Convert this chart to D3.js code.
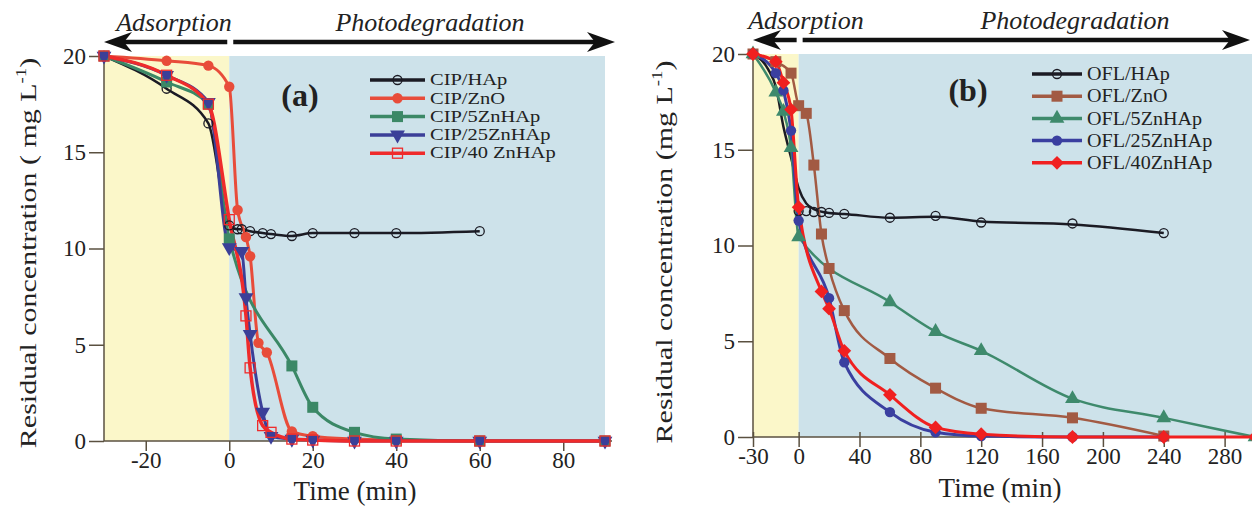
<!DOCTYPE html>
<html><head><meta charset="utf-8">
<script src="https://cdn.jsdelivr.net/npm/d3@7"></script>
<style>
body{margin:0;background:#fff}
svg{display:block}
text{font-family:"Liberation Serif","Times New Roman",serif;fill:#222}
</style>
</head><body>
<svg id="c" width="1252" height="519"></svg>
<script>
// ---------- DATA: panel (a) CIP ----------
const ticksA = [-20, 0, 20, 40, 60, 80];
const yTicks = [0, 5, 10, 15, 20];
const namesA = ["CIP/HAp", "CIP/ZnO", "CIP/5ZnHAp", "CIP/25ZnHAp", "CIP/40 ZnHAp"];
const cipHApT = [-30, -15, -5, 0, 2, 3, 5, 8, 10, 15, 20, 30, 40, 60];
const cipHApV = [20, 18.3, 16.5, 11.2, 11.0, 11.0, 10.9, 10.8, 10.75, 10.65, 10.8, 10.8, 10.8, 10.9];
const cipZnOT = [-30, -15, -5, 0, 2, 4, 5, 7, 9, 15, 20, 30, 40, 60, 90];
const cipZnOV = [20, 19.75, 19.5, 18.4, 12.0, 10.6, 9.6, 5.1, 4.6, 0.5, 0.25, 0.1, 0.05, 0, 0];
const cip5T = [-30, -15, -5, 0, 15, 20, 30, 40, 60, 90];
const cip5V = [20, 18.65, 17.5, 10.5, 3.9, 1.75, 0.45, 0.1, 0, 0];
const cip25T = [-30, -15, -5, 0, 3, 4, 5, 8, 10, 15, 20, 30, 40, 60, 90];
const cip25V = [20, 19.0, 17.6, 10.05, 9.85, 7.45, 5.55, 1.5, 0.25, 0.1, 0.05, 0, 0, 0, 0];
const cip40T = [-30, -15, -5, 0, 4, 5, 8, 10, 15, 20, 30, 40, 60, 90];
const cip40V = [20, 19.0, 17.5, 11.5, 6.5, 3.8, 0.8, 0.45, 0.1, 0.05, 0, 0, 0, 0];

// ---------- DATA: panel (b) OFL ----------
const ticksB = [-30, 0, 40, 80, 120, 160, 200, 240, 280];
const namesB = ["OFL/HAp", "OFL/ZnO", "OFL/5ZnHAp", "OFL/25ZnHAp", "OFL/40ZnHAp"];
const oflHApT = [-30, 0, 5, 10, 15, 20, 30, 60, 90, 120, 180, 240];
const oflHApV = [20, 11.8, 11.8, 11.75, 11.75, 11.7, 11.65, 11.45, 11.55, 11.2, 11.15, 10.65];
// fitted black curve as drawn in the figure
const oflHApFitT = [-30, -20, -15, -10, -5, 0, 5, 10, 20, 30, 60, 90, 120, 180, 240];
const oflHApFitV = [20, 19.2, 18.3, 16.2, 14.6, 13.0, 12.2, 11.9, 11.7, 11.65, 11.45, 11.5, 11.25, 11.1, 10.65];
const oflZnOT = [-30, -15, -5, 0, 5, 10, 15, 20, 30, 60, 90, 120, 180, 240];
const oflZnOV = [20, 19.6, 19.0, 17.3, 16.9, 14.2, 10.6, 8.8, 6.6, 4.1, 2.55, 1.5, 1.0, 0.05];
const ofl5T = [-30, -15, -10, -5, 0, 60, 90, 120, 180, 240, 300];
const ofl5V = [20, 18.0, 17.0, 15.1, 10.45, 7.05, 5.5, 4.5, 2.0, 1.0, 0];
const ofl25T = [-30, -15, -10, -5, 0, 20, 30, 60, 90, 120, 180, 240];
const ofl25V = [20, 19.0, 18.1, 16.0, 11.3, 7.25, 3.9, 1.3, 0.25, 0.05, 0, 0];
const ofl40T = [-30, -15, -10, -5, 0, 15, 20, 30, 60, 90, 120, 180, 240, 300];
const ofl40V = [20, 19.6, 18.5, 17.1, 12.0, 7.6, 6.7, 4.5, 2.2, 0.5, 0.15, 0, 0, 0];

// ---------- drawing ----------
const svg = d3.select("#c");
const YEL = "#fbf7c9", BLU = "#cde2ea";

function zip(t, v) { return t.map((d, i) => ({t: d, v: v[i]})); }

function drawMarker(g, type, x, y, col) {
  const sym = d3.symbol();
  if (type === "ocircle") {
    g.append("circle").attr("cx", x).attr("cy", y).attr("r", 4.5)
      .attr("fill", "none").attr("stroke", col).attr("stroke-width", 1.3);
  } else if (type === "circle") {
    g.append("circle").attr("cx", x).attr("cy", y).attr("r", 5.2).attr("fill", col);
  } else if (type === "square") {
    g.append("rect").attr("x", x - 5.5).attr("y", y - 5.5).attr("width", 11).attr("height", 11).attr("fill", col);
  } else if (type === "osquare") {
    g.append("rect").attr("x", x - 5).attr("y", y - 5).attr("width", 10).attr("height", 10)
      .attr("fill", "none").attr("stroke", col).attr("stroke-width", 1.3);
  } else if (type === "tridown") {
    g.append("path").attr("d", sym.type(d3.symbolTriangle).size(95)())
      .attr("transform", `translate(${x},${y}) rotate(180)`).attr("fill", col);
  } else if (type === "triup") {
    g.append("path").attr("d", sym.type(d3.symbolTriangle).size(95)())
      .attr("transform", `translate(${x},${y})`).attr("fill", col);
  } else if (type === "diamond") {
    g.append("path").attr("d", sym.type(d3.symbolSquare).size(95)())
      .attr("transform", `translate(${x},${y}) rotate(45)`).attr("fill", col);
  }
}

function arrowBar(g, xl, xm, xr, y) {
  g.append("line").attr("x1", xl + 12).attr("x2", xm - 2).attr("y1", y).attr("y2", y)
    .attr("stroke", "#111").attr("stroke-width", 4.5);
  g.append("line").attr("x1", xm + 4).attr("x2", xr - 12).attr("y1", y).attr("y2", y)
    .attr("stroke", "#111").attr("stroke-width", 4.5);
  g.append("path").attr("d", `M${xl},${y} L${xl + 28},${y - 10} L${xl + 20},${y} L${xl + 28},${y + 10} Z`).attr("fill", "#111");
  g.append("path").attr("d", `M${xr},${y} L${xr - 28},${y - 10} L${xr - 20},${y} L${xr - 28},${y + 10} Z`).attr("fill", "#111");
}

function panel(cfg) {
  const g = svg.append("g");
  const x = cfg.x, y = cfg.y;
  const [x0] = x.range();
  const [yb, yt] = y.range();
  const xz = x(0);
  g.append("rect").attr("x", x0).attr("y", yt).attr("width", xz - x0).attr("height", yb - yt).attr("fill", YEL);
  g.append("rect").attr("x", xz).attr("y", yt).attr("width", cfg.bgRight - xz).attr("height", yb - yt).attr("fill", BLU);

  arrowBar(g, x0, xz, cfg.arrowRight, cfg.arrowY);
  g.append("text").attr("x", cfg.adsX).attr("y", cfg.arrowY - 11).attr("text-anchor", "middle")
    .style("font-size", "26px").style("font-style", "italic").text("Adsorption");
  g.append("text").attr("x", cfg.photoX).attr("y", cfg.arrowY - 11).attr("text-anchor", "middle")
    .style("font-size", "26px").style("font-style", "italic").text("Photodegradation");

  const ax = g.append("g").attr("transform", `translate(0,${yb})`)
    .call(d3.axisBottom(x).tickValues(cfg.xticks).tickSize(10).tickPadding(1).tickFormat(d => String(d)));
  ax.select(".domain").attr("d", `M${x0},0H${cfg.axisRight}`);
  if (cfg.tickIn) ax.selectAll(".tick line").attr("y1", -cfg.tickIn);
  const ay = g.append("g").attr("transform", `translate(${x0},0)`)
    .call(d3.axisLeft(y).tickValues(yTicks).tickSize(15).tickPadding(3).tickFormat(d => String(d)));
  ay.select(".domain").attr("d", `M0,${yt}V${yb}`);
  [ax, ay].forEach(a => {
    a.selectAll(".domain").attr("stroke", "#5a5040").attr("stroke-width", 1.5);
    a.selectAll(".tick line").attr("stroke", "#5a5040").attr("stroke-width", 1.5);
    a.selectAll("text").style("font-size", "23px").style("font-family", "Liberation Serif").attr("fill", "#222");
  });

  const line = d3.line().x(d => x(d.t)).y(d => y(d.v)).curve(d3.curveMonotoneX);
  const sg = g.append("g");
  cfg.series.forEach(s => {
    sg.append("path").attr("d", line(zip(s.ft || s.t, s.fv || s.v))).attr("fill", "none")
      .attr("stroke", s.col).attr("stroke-width", s.w).attr("stroke-linejoin", "round");
  });
  cfg.series.forEach(s => {
    zip(s.t, s.v).forEach(d => drawMarker(sg, s.m, x(d.t), y(d.v), s.col));
  });

  g.append("text").attr("x", cfg.lblX).attr("y", cfg.lblY).attr("text-anchor", "middle")
    .style("font-size", "32px").style("font-weight", "bold").text(cfg.label);

  cfg.series.forEach((s, i) => {
    const ly = cfg.legY + i * cfg.legDy;
    g.append("line").attr("x1", cfg.legX).attr("x2", cfg.legX + cfg.legW).attr("y1", ly).attr("y2", ly)
      .attr("stroke", s.col).attr("stroke-width", 3.5);
    drawMarker(g, s.m, cfg.legX + cfg.legW / 2, ly, s.col);
    g.append("text").attr("transform", `translate(${cfg.legX + cfg.legW + 5},${ly + cfg.legFont * 0.33}) scale(${cfg.legSx},1)`)
      .style("font-size", cfg.legFont + "px").attr("fill", s.col).text(s.name);
  });

  g.append("text").attr("x", cfg.xtX).attr("y", cfg.xtY).attr("text-anchor", "middle")
    .style("font-size", "27px").text("Time (min)");
  const yt2 = g.append("text").attr("transform", `translate(${cfg.ytX},${cfg.ytY}) rotate(-90) scale(1.25,1)`)
    .attr("text-anchor", "middle").style("font-size", "24px");
  yt2.append("tspan").text(cfg.ytText);
  yt2.append("tspan").attr("dy", -10).style("font-size", "15px").text("-1");
  yt2.append("tspan").attr("dy", 10).text(")");
}

panel({
  x: d3.scaleLinear().domain([-30, 90]).range([104, 605]),
  y: d3.scaleLinear().domain([0, 20]).range([441, 56]),
  xticks: ticksA, bgRight: 605, axisRight: 612, arrowRight: 615, arrowY: 42,
  adsX: 174, photoX: 430, label: "(a)", lblX: 300, lblY: 106,
  legX: 370, legW: 55, legY: 80, legDy: 18.3, legFont: 16, legSx: 1.28,
  xtX: 355, xtY: 500, ytX: 36, ytY: 253, ytText: "Residual concentration ( mg L",
  series: [
    {name: namesA[0], t: cipHApT, v: cipHApV, col: "#1b1b24", m: "ocircle", w: 2.5},
    {name: namesA[1], t: cipZnOT, v: cipZnOV, col: "#e84c3a", m: "circle", w: 3},
    {name: namesA[2], t: cip5T, v: cip5V, col: "#3b8866", m: "square", w: 3},
    {name: namesA[3], t: cip25T, v: cip25V, col: "#3b3f98", m: "tridown", w: 3},
    {name: namesA[4], t: cip40T, v: cip40V, col: "#ef2b2b", m: "osquare", w: 3.5}
  ]
});

panel({
  x: d3.scaleLinear().domain([-30, 298]).range([753, 1252]),
  y: d3.scaleLinear().domain([0, 20]).range([437, 54]),
  xticks: ticksB, bgRight: 1252, axisRight: 1252, arrowRight: 1250, arrowY: 40, tickIn: 5,
  adsX: 806, photoX: 1075, label: "(b)", lblX: 968, lblY: 101,
  legX: 1032, legW: 50, legY: 74, legDy: 22.2, legFont: 19, legSx: 1.06,
  xtX: 1000, xtY: 497, ytX: 672, ytY: 252, ytText: "Residual concentration (mg L",
  series: [
    {name: namesB[0], t: oflHApT, v: oflHApV, ft: oflHApFitT, fv: oflHApFitV, col: "#1b1b24", m: "ocircle", w: 2.5},
    {name: namesB[1], t: oflZnOT, v: oflZnOV, col: "#a25a43", m: "square", w: 2.5},
    {name: namesB[2], t: ofl5T, v: ofl5V, col: "#3e8a6c", m: "triup", w: 2.5},
    {name: namesB[3], t: ofl25T, v: ofl25V, col: "#3a3fa0", m: "circle", w: 3},
    {name: namesB[4], t: ofl40T, v: ofl40V, col: "#f02020", m: "diamond", w: 3}
  ]
});
</script>
</body></html>
